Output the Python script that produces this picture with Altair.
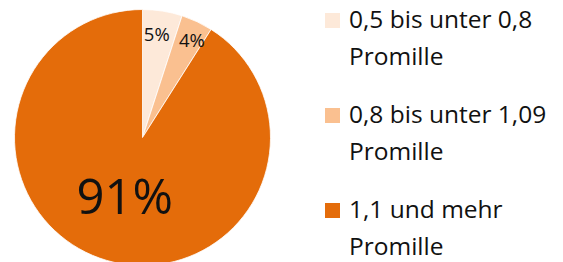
import altair as alt
import pandas as pd

categories = ["0,5 bis unter 0,8 Promille", "0,8 bis unter 1,09 Promille", "1,1 und mehr Promille"]
values = [5, 4, 91]
colors = ["#FDE9D9", "#FAC090", "#E46C0A"]

df = pd.DataFrame({"category": categories, "value": values, "idx": list(range(len(categories)))})

FONT = "Open Sans"
CX, CY = 134.5, 129.5

color = alt.Color("category:N", scale=alt.Scale(domain=categories, range=colors), legend=None)
theta = alt.Theta("value:Q", stack=True)
order = alt.Order("idx:Q")

pie = alt.Chart(df).mark_arc(outerRadius=128, stroke="white", strokeWidth=0.8).encode(
    theta=theta, order=order, color=color, x=alt.value(CX), y=alt.value(CY)
)


def pct_layer(i, radius, size, dx=0, dy=0):
    return alt.Chart(df).transform_calculate(pct="datum.value + '%'").mark_text(
        radius=radius, fontSize=size, font=FONT, color="#111", baseline="middle", dx=dx, dy=dy
    ).encode(
        theta=theta, order=order, x=alt.value(CX), y=alt.value(CY),
        text=alt.condition(f"datum.idx == {i}", "pct:N", alt.value("")),
    )


lab0 = pct_layer(0, 104, 18.5, dx=-2)
lab1 = pct_layer(1, 109, 18.5, dx=3, dy=2)
lab2 = pct_layer(2, 64, 49)

ly = alt.Y("idx:Q", scale=alt.Scale(domain=[0, 2], range=[12.5, 202.5]), axis=None)

leg_sq = alt.Chart(df).mark_square(size=225, opacity=1).encode(
    x=alt.value(324.5), y=ly, color=color
)
leg_tx = alt.Chart(df).transform_calculate(
    lab="replace(datum.category, ' Promille', '\\nPromille')"
).mark_text(
    align="left", baseline="alphabetic", dy=7.5, fontSize=24.5, font=FONT,
    color="#111", lineBreak="\n", lineHeight=37
).encode(x=alt.value(341), y=ly, text="lab:N")

chart = alt.layer(pie, lab0, lab1, lab2, leg_sq, leg_tx).properties(
    width=547, height=254, padding=0, autosize=alt.AutoSizeParams(type="none")
).configure_view(stroke=None)

chart.save("out.html", embed_options={"renderer": "svg", "actions": False})
